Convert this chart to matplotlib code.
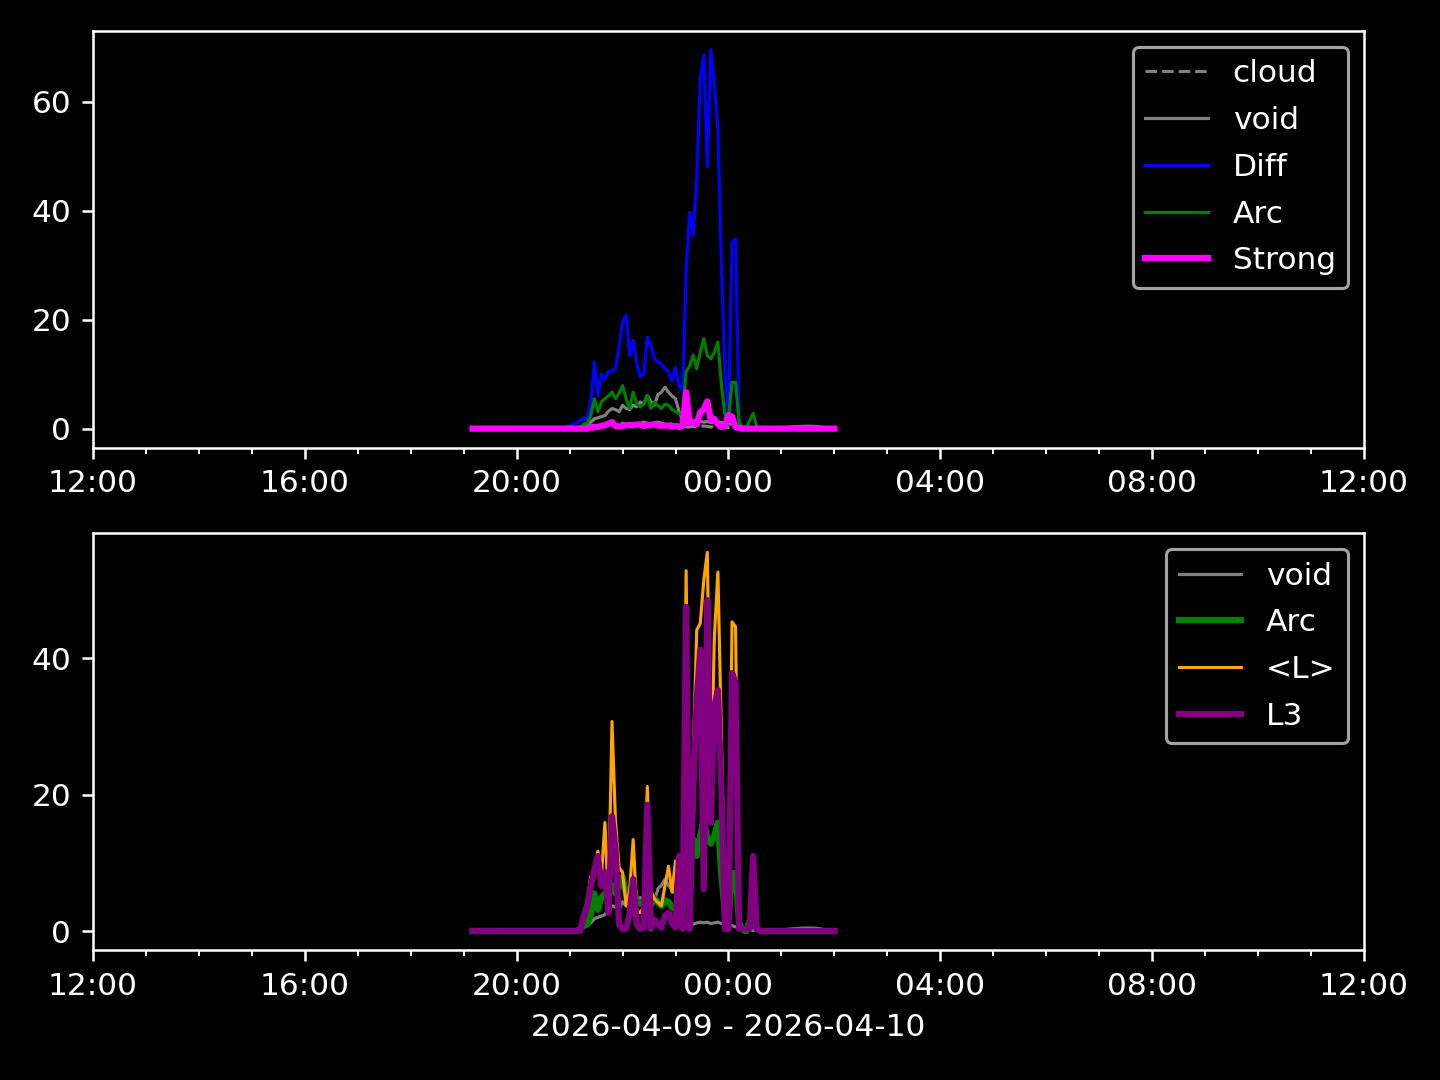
import pandas as pd
import numpy as np
import matplotlib
matplotlib.use("Agg")
import matplotlib.pyplot as plt
import matplotlib.dates as mdates

# time grid: quiet lead-in, active part at 4 min, quiet tail
t_pre = pd.date_range("2026-04-09 19:10", "2026-04-09 20:30", freq="20min")
t_act = pd.date_range("2026-04-09 20:40", "2026-04-10 00:40", freq="4min")
t_post = pd.date_range("2026-04-10 00:50", "2026-04-10 02:00", freq="10min")
times = t_pre.append(t_act).append(t_post)

pre0 = [0, 0, 0, 0, 0]
post0 = [0, 0, 0, 0, 0, 0, 0, 0]

cloud = pre0 + [
    0, 0, 0, 0, 0, 0, 0, 0.1, 0.2, 0.3,
    0.4, 0.5, 0.6, 0.5, 0.7, 0.8, 0.9, 0.8, 0.7, 0.9,
    1.0, 0.9, 0.8, 1.1, 0.9, 1.0, 1.2, 1.0, 0.9, 1.1,
    1.2, 1.0, 0.9, 1.0, 0.8, 0.7, 0.6, 0.4, 0.3, 0.3,
    0.4, 0.3, 0.4, 0.5, 0.4, 0.3, 0.4, 0.3, 0.2, 0.2,
    0.2, 0.2, 0.1, 0.1, 0, 0, 0, 0, 0, 0,
    0] + post0

void = [0, 0, 0, 0.05, 0.05] + [
    0.05, 0.05, 0.05, 0.05, 0.05, 0.05, 0.1, 0.1, 0.3, 0.5,
    0.8, 1.2, 1.8, 2.0, 2.2, 2.4, 3.2, 3.7, 3.5, 3.1,
    4.3, 3.7, 3.5, 4.3, 4.0, 4.9, 4.5, 6.1, 5.0, 4.3,
    6.2, 6.7, 7.6, 6.7, 6.0, 5.5, 3.1, 1.5, 1.0, 1.1,
    1.0, 1.2, 1.3, 1.2, 1.3, 1.1, 1.2, 1.3, 1.1, 1.0,
    0.9, 0.8, 0.6, 0.5, 0.3, 0.2, 0.1, 0.1, 0.1, 0.1,
    0.1] + [0.1, 0.15, 0.3, 0.4, 0.45, 0.4, 0.2, 0.1]

diff = pre0 + [
    0, 0, 0, 0, 0.3, 0.5, 0.8, 1.0, 1.5, 2.0,
    1.5, 5.0, 12.2, 6.0, 10.0, 9.0, 10.5, 10.6, 11.0, 15.0,
    19.5, 20.8, 13.4, 16.2, 12.0, 9.5, 10.0, 16.8, 15.2, 13.0,
    12.2, 11.9, 11.0, 10.4, 8.8, 11.3, 7.9, 7.0, 28.7, 39.7,
    35.4, 45.7, 64.0, 68.6, 48.0, 69.5, 63.0, 55.0, 30.0, 10.4,
    2.4, 34.2, 34.8, 1.0, 0.2, 0, 0, 0, 0, 0,
    0] + post0

arc = pre0 + [
    0, 0, 0, 0, 0, 0, 0, 0, 0.3, 0.8,
    1.0, 2.4, 5.5, 3.1, 4.9, 5.5, 6.0, 6.7, 5.5, 6.5,
    7.9, 5.5, 3.7, 6.7, 4.5, 4.0, 4.5, 6.1, 3.7, 4.9,
    4.2, 3.7, 4.5, 4.3, 3.5, 3.1, 2.8, 2.5, 10.4, 11.5,
    13.5, 11.0, 14.0, 16.5, 13.4, 12.8, 14.0, 15.9, 8.0, 2.5,
    1.8, 8.5, 8.5, 1.2, 0.2, 0, 1.5, 2.8, 0.3, 0,
    0] + post0

strong = pre0 + [
    0, 0, 0, 0, 0, 0, 0, 0, 0, 0,
    0, 0.2, 0.3, 0.3, 0.5, 0.6, 0.9, 1.2, 0.5, 0.4,
    0.5, 0.6, 0.7, 0.6, 0.8, 0.7, 0.5, 0.6, 0.7, 0.8,
    0.6, 0.5, 0.6, 0.5, 0.4, 0.5, 0.3, 0.5, 6.7, 1.0,
    1.2, 0.8, 3.0, 3.5, 5.0, 1.5, 1.8, 0.8, 0.3, 0.5,
    2.5, 2.2, 0.3, 0.1, 0, 0, 0, 0, 0, 0,
    0] + post0

avg_l = pre0 + [
    0, 0, 0, 0, 0, 0, 0, 0, 0, 2.5,
    4.5, 8.0, 8.8, 11.7, 8.0, 15.9, 4.0, 30.7, 15.9, 9.3,
    8.6, 3.7, 6.0, 13.4, 3.0, 2.7, 3.5, 21.2, 5.9, 4.7,
    4.2, 3.7, 6.6, 9.5, 5.7, 10.3, 6.1, 2.0, 52.8, 1.0,
    25.0, 44.1, 45.1, 51.4, 55.5, 20.0, 43.1, 52.6, 28.5, 1.0,
    0.5, 45.3, 44.6, 0.5, 0.3, 0.3, 0.3, 10.5, 0.3, 0,
    0] + post0

l3 = pre0 + [
    0, 0, 0, 0, 0, 0, 0, 0, 0, 2.2,
    3.7, 6.6, 9.0, 11.0, 6.6, 8.6, 2.7, 16.8, 12.0, 1.0,
    0.3, 0.3, 2.5, 7.6, 1.0, 0.3, 0.5, 18.5, 0.3, 1.7,
    1.0, 0.5, 2.2, 2.7, 1.2, 0.5, 11.0, 0.3, 47.5, 0.3,
    20.0, 33.9, 41.2, 6.1, 48.5, 15.9, 32.9, 35.3, 20.3, 0.3,
    0.3, 37.8, 36.4, 0.3, 0.3, 0.3, 0.3, 11.0, 0.3, 0,
    0] + post0

plt.style.use("dark_background")
fig, (ax1, ax2) = plt.subplots(2, 1, figsize=(6.4, 4.8), dpi=225)
fig.subplots_adjust(left=0.0646, right=0.9472, top=0.9713, bottom=0.1204, hspace=0.206)

ax1.plot(times, cloud, color="gray", linestyle="--", linewidth=1, label="cloud")
ax1.plot(times, void, color="gray", linewidth=1, label="void")
ax1.plot(times, diff, color="blue", linewidth=1, label="Diff")
ax1.plot(times, arc, color="green", linewidth=1, label="Arc")
ax1.plot(times, strong, color="magenta", linewidth=2, label="Strong")
ax1.legend(loc="upper right", labelspacing=0.57)

ax2.plot(times, void, color="gray", linewidth=1, label="void")
ax2.plot(times, arc, color="green", linewidth=2, label="Arc")
ax2.plot(times, avg_l, color="orange", linewidth=1, label="<L>")
ax2.plot(times, l3, color="purple", linewidth=2, label="L3")
ax2.legend(loc="upper right", labelspacing=0.57)

for ax in (ax1, ax2):
    ax.set_xlim(pd.Timestamp("2026-04-09 12:00"), pd.Timestamp("2026-04-10 12:00"))
    ax.xaxis.set_major_locator(mdates.HourLocator(byhour=[0, 4, 8, 12, 16, 20]))
    ax.xaxis.set_minor_locator(mdates.HourLocator())
    ax.xaxis.set_major_formatter(mdates.DateFormatter("%H:%M"))

ax2.set_xlabel("2026-04-09 - 2026-04-10")

plt.savefig("out.png")
